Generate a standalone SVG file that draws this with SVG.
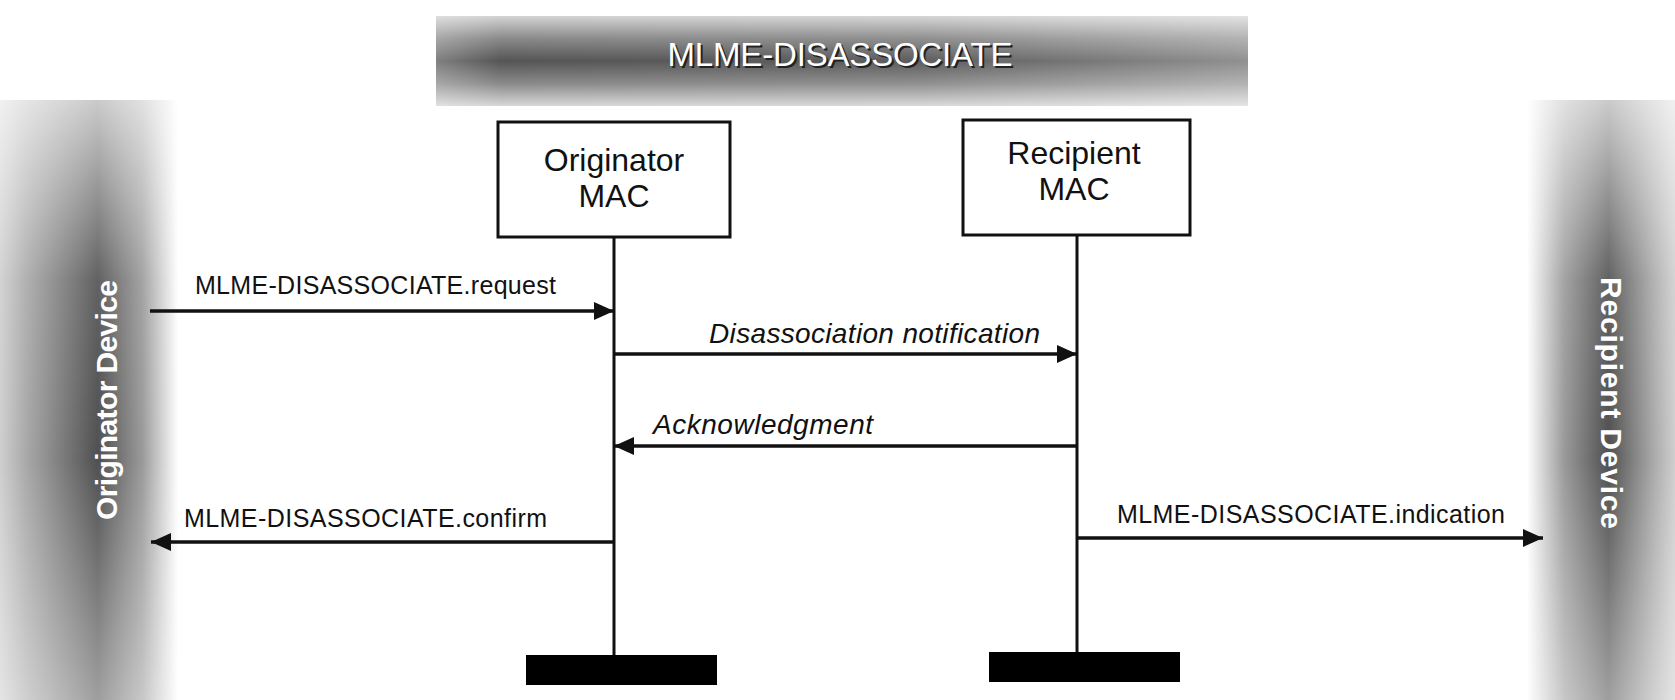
<svg xmlns="http://www.w3.org/2000/svg" width="1675" height="700" viewBox="0 0 1675 700">
  <defs>
    <style>
      .lbl { font-family: "Liberation Sans", Arial, sans-serif; font-size: 25px; fill: #111; }
      .msg { font-family: "Liberation Sans", Arial, sans-serif; font-size: 28px; font-style: italic; fill: #111; }
      .box { fill: #fff; stroke: #111; stroke-width: 3; }
      .boxtxt { font-family: "Liberation Sans", Arial, sans-serif; font-size: 32px; fill: #111; text-anchor: middle; }
      .life { stroke: #111; stroke-width: 3; fill: none; }
      .conn { stroke: #111; stroke-width: 3.5; fill: none; marker-end: url(#arrow); }
      .bar { fill: #000; }
      .side { font-family: "Liberation Sans", Arial, sans-serif; font-size: 30px; font-weight: bold; fill: #fff; text-anchor: middle; }
      .title { font-family: "Liberation Sans", Arial, sans-serif; font-size: 33px; text-anchor: middle; }
    </style>
    <marker id="arrow" viewBox="0 0 20 18" refX="20" refY="9" markerWidth="20" markerHeight="18" markerUnits="userSpaceOnUse" orient="auto">
      <path d="M0,0 L20,9 L0,18 Z" fill="#111"/>
    </marker>
    <!-- banner shading: light edges, dark middle -->
    <linearGradient id="bannerV" x1="0" y1="0" x2="0" y2="1">
      <stop offset="0" stop-color="#d4d4d4"/>
      <stop offset="0.25" stop-color="#8a8a8a"/>
      <stop offset="0.5" stop-color="#555"/>
      <stop offset="0.75" stop-color="#8a8a8a"/>
      <stop offset="1" stop-color="#d8d8d8"/>
    </linearGradient>
    <linearGradient id="bannerH" x1="0" y1="0" x2="1" y2="0">
      <stop offset="0" stop-color="#fff" stop-opacity="0.25"/>
      <stop offset="0.08" stop-color="#fff" stop-opacity="0"/>
      <stop offset="0.6" stop-color="#fff" stop-opacity="0.05"/>
      <stop offset="1" stop-color="#fff" stop-opacity="0.35"/>
    </linearGradient>
    <!-- side panels: dark vertical band fading outwards -->
    <linearGradient id="leftH" x1="0" y1="0" x2="1" y2="0">
      <stop offset="0" stop-color="#cfcfcf"/>
      <stop offset="0.15" stop-color="#a8a8a8"/>
      <stop offset="0.55" stop-color="#505050"/>
      <stop offset="0.8" stop-color="#9a9a9a"/>
      <stop offset="1" stop-color="#fff"/>
    </linearGradient>
    <linearGradient id="rightH" x1="0" y1="0" x2="1" y2="0">
      <stop offset="0" stop-color="#fff"/>
      <stop offset="0.25" stop-color="#9a9a9a"/>
      <stop offset="0.55" stop-color="#505050"/>
      <stop offset="0.85" stop-color="#a8a8a8"/>
      <stop offset="1" stop-color="#cfcfcf"/>
    </linearGradient>
    <linearGradient id="sideV" x1="0" y1="0" x2="0" y2="1">
      <stop offset="0" stop-color="#fff" stop-opacity="0.7"/>
      <stop offset="0.3" stop-color="#fff" stop-opacity="0.1"/>
      <stop offset="0.6" stop-color="#fff" stop-opacity="0"/>
      <stop offset="1" stop-color="#fff" stop-opacity="0.45"/>
    </linearGradient>
  </defs>

  <rect width="1675" height="700" fill="#fff"/>

  <!-- title banner -->
  <g id="banner">
    <rect x="436" y="16" width="812" height="90" fill="url(#bannerV)"/>
    <rect x="436" y="16" width="812" height="90" fill="url(#bannerH)"/>
    <text class="title" x="842" y="68" fill="#222" textLength="345">MLME-DISASSOCIATE</text>
    <text class="title" x="840" y="66" fill="#fff" textLength="345">MLME-DISASSOCIATE</text>
  </g>

  <!-- originator device panel -->
  <g id="originator-device">
    <rect x="0" y="100" width="178" height="600" fill="url(#leftH)"/>
    <rect x="0" y="100" width="178" height="600" fill="url(#sideV)"/>
    <text class="side" transform="translate(107,400) rotate(-90)" y="10" textLength="240">Originator Device</text>
  </g>

  <!-- recipient device panel -->
  <g id="recipient-device">
    <rect x="1527" y="100" width="148" height="600" fill="url(#rightH)"/>
    <rect x="1527" y="100" width="148" height="600" fill="url(#sideV)"/>
    <text class="side" transform="translate(1611,403) rotate(90)" y="10" textLength="252">Recipient Device</text>
  </g>

  <!-- originator MAC entity -->
  <g id="originator-mac">
    <rect class="box" x="498" y="122" width="232" height="115"/>
    <text class="boxtxt" x="614" y="171">Originator</text>
    <text class="boxtxt" x="614" y="207">MAC</text>
    <line class="life" x1="614" y1="237" x2="614" y2="656"/>
    <rect class="bar" x="526" y="655" width="191" height="30"/>
  </g>

  <!-- recipient MAC entity -->
  <g id="recipient-mac">
    <rect class="box" x="963" y="120" width="227" height="115"/>
    <text class="boxtxt" x="1074" y="164">Recipient</text>
    <text class="boxtxt" x="1074" y="200">MAC</text>
    <line class="life" x1="1077" y1="235" x2="1077" y2="653"/>
    <rect class="bar" x="989" y="652" width="191" height="30"/>
  </g>

  <!-- messages -->
  <g id="connectors">
    <line class="conn" x1="150" y1="311" x2="614" y2="311"/>
    <line class="conn" x1="614" y1="354" x2="1077" y2="354"/>
    <line class="conn" x1="1077" y1="446" x2="614" y2="446"/>
    <line class="conn" x1="614" y1="542" x2="151" y2="542"/>
    <line class="conn" x1="1077" y1="538" x2="1543" y2="538"/>
    <text class="lbl" x="195" y="294" textLength="361">MLME-DISASSOCIATE.request</text>
    <text class="msg" x="709" y="343" textLength="331">Disassociation notification</text>
    <text class="msg" x="653" y="434" textLength="220">Acknowledgment</text>
    <text class="lbl" x="184" y="527" textLength="363">MLME-DISASSOCIATE.confirm</text>
    <text class="lbl" x="1117" y="523" textLength="388">MLME-DISASSOCIATE.indication</text>
  </g>
</svg>
